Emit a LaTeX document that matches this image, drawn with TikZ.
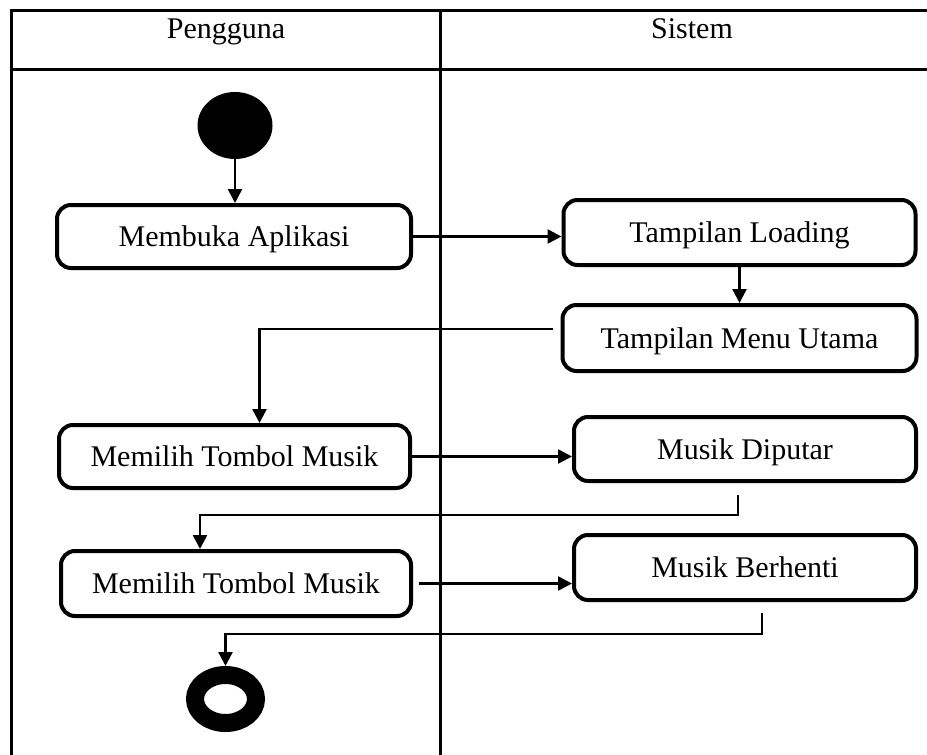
\documentclass[tikz,border=0pt]{standalone}
\usepackage{fontspec}
\setmainfont{Liberation Serif}
\usetikzlibrary{arrows.meta,shapes.geometric}
\begin{document}
\begin{tikzpicture}[x=1pt,y=-1pt,
  act/.style={draw, rectangle, rounded corners=14pt, line width=4pt, inner sep=0pt,
    text height=20pt, text depth=0pt, font=\fontsize{30}{36}\selectfont},
  lane/.style={line width=3pt},
  head/.style={font=\fontsize{30}{36}\selectfont, anchor=base, inner sep=0pt},
  flow/.style={line width=2.5pt, -{Triangle[length=14pt,width=14pt]}}]
\useasboundingbox (0,0) rectangle (927,755);

% swimlane frame
\draw[lane] (11,755) -- (11,10) -- (927,10);
\draw[lane] (11,69) -- (927,69);
\draw[lane] (440,10) -- (440,755);
\node[head] (hu) at (226,38) {Pengguna};
\node[head] (hs) at (692,38) {Sistem};

% start and end states
\node[ellipse, fill=black, inner sep=0pt, minimum width=75pt, minimum height=67pt] (start) at (235,125.5) {};
\node[ellipse, draw, line width=18pt, inner sep=0pt, minimum width=61pt, minimum height=48pt] (end) at (225.5,699) {};

% activities
\node[act, minimum width=354pt, minimum height=63pt] (mem)  at (234,236.5)  {Membuka Aplikasi};
\node[act, minimum width=352pt, minimum height=65pt] (load) at (739.5,232.5) {Tampilan Loading};
\node[act, minimum width=354pt, minimum height=66pt] (menu) at (739.5,338)   {Tampilan Menu Utama};
\node[act, minimum width=351pt, minimum height=63pt] (pil1) at (234.5,456.5) {Memilih Tombol Musik};
\node[act, minimum width=342pt, minimum height=64pt] (dip)  at (745,449)     {Musik Diputar};
\node[act, minimum width=350pt, minimum height=65pt] (pil2) at (236,583.5)   {Memilih Tombol Musik};
\node[act, minimum width=342pt, minimum height=65pt] (berh) at (745,567.5)   {Musik Berhenti};

% flows
\draw[flow] (start.south) -- (start.south |- mem.north);
\draw[flow] (mem.east) -- (mem.east -| load.west);
\draw[flow] (load.south) -- (menu.north);
\draw[flow] ([xshift=-8pt,yshift=9pt]menu.west) -| ([xshift=25pt]pil1.north);
\draw[flow] (pil1.east) -- (pil1.east -| dip.west);
\draw[flow] ([xshift=-7pt,yshift=-12pt]dip.south) -- ++(0,20) -| ([xshift=-36pt]pil2.north);
\draw[flow] ([xshift=6pt]pil2.east) -- (pil2.east -| berh.west);
\draw[flow] ([xshift=17pt,yshift=-11pt]berh.south) -- ++(0,21) -| (end.north);
\end{tikzpicture}
\end{document}
